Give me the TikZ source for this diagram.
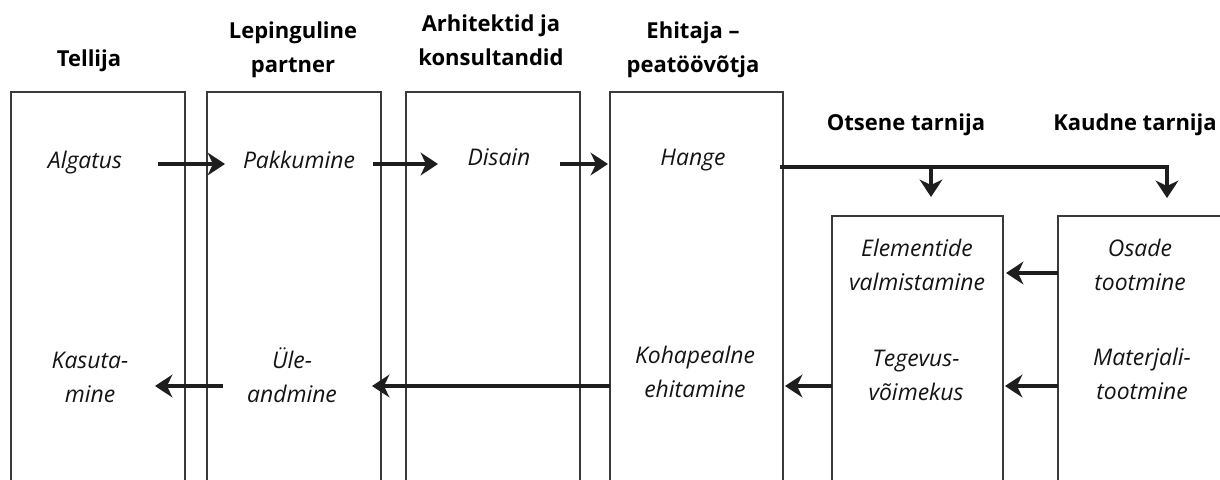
\documentclass[tikz,border=0pt]{standalone}
\usepackage{fontspec}
\setmainfont{Open Sans}
\usetikzlibrary{arrows.meta,fit}
\definecolor{laneline}{HTML}{3A3A3A}
\definecolor{flowink}{HTML}{1E1E1E}
\begin{document}
\begin{tikzpicture}[x=0.75pt,y=-0.75pt,
  lane/.style={draw=laneline, line width=1.7pt, inner sep=0pt},
  head/.style={font=\fontsize{16.5}{25.5}\selectfont\bfseries, align=center, anchor=base, inner sep=0pt},
  task/.style={font=\fontsize{17.2}{25.5}\selectfont\itshape, align=center, anchor=base, inner sep=0pt, text=black!92},
  flow/.style={line width=3.4pt, draw=flowink, -{Stealth[length=13pt,width=17pt,inset=4pt]}}
]
\useasboundingbox (0,0) rectangle (1220,479);
\clip (0,0) rectangle (1220,479);

% swim lanes (open towards the bottom)
\node[lane, fit={(11,92) (185,540)}] (lane-tellija) {};
\node[lane, fit={(207,92) (381,540)}] (lane-partner) {};
\node[lane, fit={(406,92) (580,540)}] (lane-arch) {};
\node[lane, fit={(610,92) (783,540)}] (lane-ehitaja) {};
\node[lane, fit={(832,216) (1003,540)}] (lane-otsene) {};
\node[lane, fit={(1058,216) (1300,540)}] (lane-kaudne) {};

% lane headings (anchored at the baseline of the last line)
\node[head] (h-tellija) at (89,66) {Tellija};
\node[head] (h-partner) at (293,72) {Lepinguline\\partner};
\node[head] (h-arch) at (491,65) {Arhitektid ja\\konsultandid};
\node[head] (h-ehitaja) at (693,72) {Ehitaja –\\peatöövõtja};
\node[head] (h-otsene) at (906,130) {Otsene tarnija};
\node[head] (h-kaudne) at (1135,130) {Kaudne tarnija};

% activities
\node[task] (algatus) at (85,168) {Algatus};
\node[task] (pakkumine) at (299,168) {Pakkumine};
\node[task] (disain) at (499,165) {Disain};
\node[task] (hange) at (693,165) {Hange};
\node[task] (elementide) at (917,290) {Elementide\\valmistamine};
\node[task] (osade) at (1140,290) {Osade\\tootmine};
\node[task] (kasutamine) at (90,402) {Kasuta-\\mine};
\node[task] (yleandmine) at (292,402) {Üle-\\andmine};
\node[task] (kohapealne) at (695,397) {Kohapealne\\ehitamine};
\node[task] (tegevus) at (916,400) {Tegevus-\\võimekus};
\node[task] (materjali) at (1142,399) {Materjali-\\tootmine};

% connector end points
\coordinate (algatus-out) at (158,164);
\coordinate (pakkumine-in) at (225,164);
\coordinate (pakkumine-out) at (373,164);
\coordinate (disain-in) at (438,164);
\coordinate (disain-out) at (560,164);
\coordinate (hange-in) at (608,164);
\coordinate (hange-out) at (780,167);
\coordinate (branch) at (931,167);
\coordinate (otsene-in) at (931,197);
\coordinate (kaudne-in) at (1167,198);
\coordinate (osade-out) at (1058,273);
\coordinate (elementide-in) at (1006,273);
\coordinate (materjali-out) at (1058,386);
\coordinate (tegevus-in) at (1005,386);
\coordinate (tegevus-out) at (832,386);
\coordinate (kohapealne-in) at (785,386);
\coordinate (kohapealne-out) at (610,386);
\coordinate (yleandmine-in) at (372,386);
\coordinate (yleandmine-out) at (223,386);
\coordinate (kasutamine-in) at (155,386);

% flows
\draw[flow] (algatus-out) -- (pakkumine-in);
\draw[flow] (pakkumine-out) -- (disain-in);
\draw[flow] (disain-out) -- (hange-in);
\draw[flow] (hange-out) -| (kaudne-in);
\draw[flow] (branch) -- (otsene-in);
\draw[flow] (osade-out) -- (elementide-in);
\draw[flow] (materjali-out) -- (tegevus-in);
\draw[flow] (tegevus-out) -- (kohapealne-in);
\draw[flow] (kohapealne-out) -- (yleandmine-in);
\draw[flow] (yleandmine-out) -- (kasutamine-in);
\end{tikzpicture}
\end{document}
